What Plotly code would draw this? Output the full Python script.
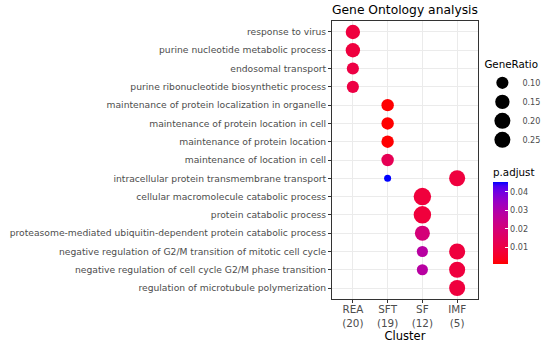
import math
import plotly.graph_objects as go

# ---------------- data ----------------
terms = [
    "response to virus",
    "purine nucleotide metabolic process",
    "endosomal transport",
    "purine ribonucleotide biosynthetic process",
    "maintenance of protein localization in organelle",
    "maintenance of protein location in cell",
    "maintenance of protein location",
    "maintenance of location in cell",
    "intracellular protein transmembrane transport",
    "cellular macromolecule catabolic process",
    "protein catabolic process",
    "proteasome-mediated ubiquitin-dependent protein catabolic process",
    "negative regulation of G2/M transition of mitotic cell cycle",
    "negative regulation of cell cycle G2/M phase transition",
    "regulation of microtubule polymerization",
]
clusters = ["REA", "SFT", "SF", "IMF"]
cluster_sizes = [20, 19, 12, 5]

point_cluster = ["REA", "REA", "REA", "REA",
                 "SFT", "SFT", "SFT", "SFT", "SFT",
                 "SF", "SF", "SF", "SF", "SF",
                 "IMF", "IMF", "IMF", "IMF"]
point_term = [
    "response to virus",
    "purine nucleotide metabolic process",
    "endosomal transport",
    "purine ribonucleotide biosynthetic process",
    "maintenance of protein localization in organelle",
    "maintenance of protein location in cell",
    "maintenance of protein location",
    "maintenance of location in cell",
    "intracellular protein transmembrane transport",
    "cellular macromolecule catabolic process",
    "protein catabolic process",
    "proteasome-mediated ubiquitin-dependent protein catabolic process",
    "negative regulation of G2/M transition of mitotic cell cycle",
    "negative regulation of cell cycle G2/M phase transition",
    "intracellular protein transmembrane transport",
    "negative regulation of G2/M transition of mitotic cell cycle",
    "negative regulation of cell cycle G2/M phase transition",
    "regulation of microtubule polymerization",
]
point_count = [3, 3, 2, 2,
               2, 2, 2, 2, 1,
               3, 3, 2, 1, 1,
               1, 1, 1, 1]
point_padj = [0.0090, 0.0090, 0.0100, 0.0100,
              0.0012, 0.0011, 0.0013, 0.0130, 0.0453,
              0.0085, 0.0085, 0.0200, 0.0280, 0.0280,
              0.0090, 0.0090, 0.0090, 0.0090]

legend_ratios = [0.10, 0.15, 0.20, 0.25]
cbar_ticks = [0.01, 0.02, 0.03, 0.04]

# ---------------- helpers ----------------
def srgb_to_lin(c):
    return c / 12.92 if c <= 0.04045 else ((c + 0.055) / 1.055) ** 2.4

def lin_to_srgb(c):
    c = max(0.0, min(1.0, c))
    return 12.92 * c if c <= 0.0031308 else 1.055 * c ** (1 / 2.4) - 0.055

def rgb_to_lab(r, g, b):
    r, g, b = (srgb_to_lin(v / 255) for v in (r, g, b))
    X = 0.4124 * r + 0.3576 * g + 0.1805 * b
    Y = 0.2126 * r + 0.7152 * g + 0.0722 * b
    Z = 0.0193 * r + 0.1192 * g + 0.9505 * b
    def f(t):
        return t ** (1 / 3) if t > 0.008856 else 7.787 * t + 16 / 116
    fx, fy, fz = f(X / 0.95047), f(Y), f(Z / 1.08883)
    return 116 * fy - 16, 500 * (fx - fy), 200 * (fy - fz)

def lab_to_hex(L, a, b):
    fy = (L + 16) / 116
    fx = fy + a / 500
    fz = fy - b / 200
    def finv(t):
        return t ** 3 if t ** 3 > 0.008856 else (t - 16 / 116) / 7.787
    X, Y, Z = 0.95047 * finv(fx), finv(fy), 1.08883 * finv(fz)
    r = 3.2406 * X - 1.5372 * Y - 0.4986 * Z
    g = -0.9689 * X + 1.8758 * Y + 0.0415 * Z
    bb = 0.0557 * X - 0.2040 * Y + 1.0570 * Z
    return "#%02x%02x%02x" % tuple(int(round(lin_to_srgb(v) * 255)) for v in (r, g, bb))

lab_lo = rgb_to_lab(255, 0, 0)
lab_hi = rgb_to_lab(0, 0, 255)
colorscale = []
for i in range(21):
    t = i / 20
    L = lab_lo[0] + (lab_hi[0] - lab_lo[0]) * t
    A = lab_lo[1] + (lab_hi[1] - lab_lo[1]) * t
    B = lab_lo[2] + (lab_hi[2] - lab_lo[2]) * t
    colorscale.append([t, lab_to_hex(L, A, B)])

size_of = dict(zip(clusters, cluster_sizes))
ratios = [c / size_of[k] for c, k in zip(point_count, point_cluster)]
rmin, rmax = min(ratios), max(ratios)

def ratio_to_px(r):
    s = 3 + 5 * math.sqrt(max(0.0, (r - rmin) / (rmax - rmin)))
    return 0.738 * (2.845 * s + 0.945)

xlabels = {k: f"{k}<br>({n})" for k, n in zip(clusters, cluster_sizes)}

FONT = "DejaVu Sans"
fig = go.Figure()

fig.add_trace(go.Scatter(
    x=[xlabels[k] for k in point_cluster],
    y=point_term,
    mode="markers",
    showlegend=False,
    marker=dict(
        size=[ratio_to_px(r) for r in ratios],
        color=point_padj,
        colorscale=colorscale,
        opacity=1,
        line=dict(width=0),
        showscale=True,
        colorbar=dict(
            title=dict(text="p.adjust", side="top", font=dict(family=FONT, size=10.3, color="#000000")),
            x=1.103, xanchor="left", xpad=0,
            y=0.482, yanchor="top", ypad=0,
            lenmode="pixels", len=99,
            thicknessmode="pixels", thickness=15,
            outlinewidth=0,
            tickvals=cbar_ticks,
            ticktext=[f"{v:.2f}" for v in cbar_ticks],
            ticks="inside", ticklen=3, tickcolor="#ffffff",
            tickfont=dict(family=FONT, size=8.1, color="#4D4D4D"),
        ),
    ),
))

for r in legend_ratios:
    fig.add_trace(go.Scatter(
        x=[None], y=[None], mode="markers",
        name=f"{r:.2f}",
        marker=dict(size=ratio_to_px(r), color="black", opacity=1),
        showlegend=True,
    ))

fig.update_layout(
    width=550, height=346,
    margin=dict(l=332, r=72, t=21, b=47, autoexpand=False),
    paper_bgcolor="white", plot_bgcolor="white",
    font=dict(family=FONT, color="#000000"),
    title=dict(text="Gene Ontology analysis", x=332 / 550, xanchor="left", xref="container",
               y=1 - 10 / 346, yanchor="middle",
               font=dict(family=FONT, size=12.3, color="#000000")),
    legend=dict(
        title=dict(text="GeneRatio", font=dict(family=FONT, size=10.3, color="#000000")),
        x=1.03, xanchor="left", y=0.878, yanchor="top",
        itemsizing="trace",
        font=dict(family=FONT, size=8.1, color="#4D4D4D"),
        bgcolor="rgba(0,0,0,0)", borderwidth=0,
        tracegroupgap=1,
    ),
    xaxis=dict(
        type="category",
        categoryorder="array", categoryarray=[xlabels[k] for k in clusters],
        range=[-0.6, len(clusters) - 0.4],
        showgrid=True, gridcolor="#EBEBEB", gridwidth=1,
        showline=True, mirror=True, linecolor="#333333", linewidth=1,
        ticks="outside", ticklen=3, tickcolor="#333333",
        ticklabelstandoff=-2,
        tickfont=dict(family=FONT, size=10.4, color="#4D4D4D"),
        title=dict(text="Cluster", font=dict(family=FONT, size=11.5, color="#000000"), standoff=0),
        zeroline=False,
    ),
    yaxis=dict(
        type="category",
        categoryorder="array", categoryarray=terms,
        range=[len(terms) - 0.4, -0.6],
        showgrid=True, gridcolor="#EBEBEB", gridwidth=1,
        showline=True, mirror=True, linecolor="#333333", linewidth=1,
        ticks="outside", ticklen=3, tickcolor="#333333",
        tickfont=dict(family=FONT, size=9.2, color="#4D4D4D"),
        zeroline=False,
    ),
)

fig.write_html("out.html", config={"displayModeBar": False},
               post_script="document.body.style.margin='0';")
